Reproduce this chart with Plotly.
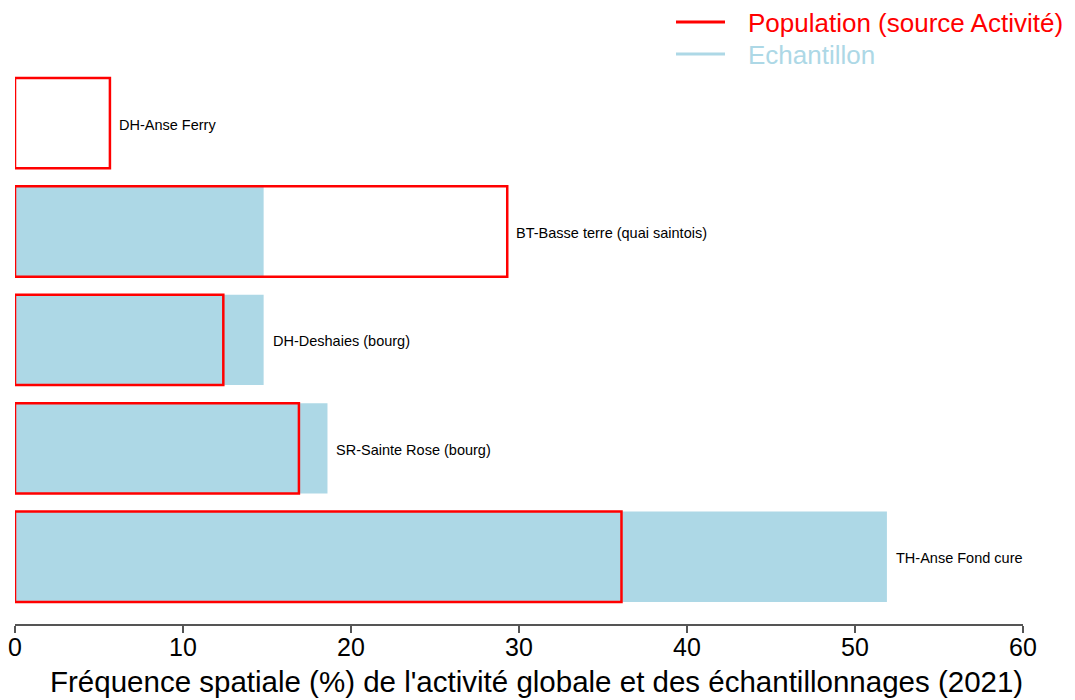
import plotly.graph_objects as go

# Data (top to bottom order as in the chart)
sites = [
    "DH-Anse Ferry",
    "BT-Basse terre (quai saintois)",
    "DH-Deshaies (bourg)",
    "SR-Sainte Rose (bourg)",
    "TH-Anse Fond cure",
]
population = [5.65, 29.3, 12.4, 16.9, 36.1]
echantillon = [0.0, 14.8, 14.8, 18.6, 51.9]
x_ticks = [0, 10, 20, 30, 40, 50, 60]
legend_names = ["Population (source Activité)", "Echantillon"]
x_title = "Fréquence spatiale (%) de l'activité globale et des échantillonnages (2021)"

RED = "#FF0000"
BLUE = "#ADD8E6"
FONT = "Liberation Sans, Arial, sans-serif"

# page body adds an 8px margin, so the figure is 8px smaller than the window
OFF = 8
W, H = 1075 - OFF, 700 - OFF
ML, MR, MT, MB = 15 - OFF, 52, 58 - OFF, 76
PW, PH = W - ML - MR, H - MT - MB


def px_x(sx):
    """screen x (reference pixels) -> paper x"""
    return (sx - OFF - ML) / PW


def px_y(sy):
    """screen y (reference pixels) -> paper y"""
    return 1 - (sy - OFF - MT) / PH


fig = go.Figure()

fig.add_trace(go.Bar(
    y=sites, x=echantillon, orientation="h", name=legend_names[1],
    marker=dict(color=BLUE, line=dict(width=0)),
    showlegend=False, hoverinfo="x+y",
))
fig.add_trace(go.Bar(
    y=sites, x=population, orientation="h", name=legend_names[0],
    marker=dict(color="rgba(0,0,0,0)", line=dict(color=RED, width=2.5)),
    showlegend=False, hoverinfo="x+y",
))

# site labels to the right of the longest bar
for s, p, e in zip(sites, population, echantillon):
    fig.add_annotation(
        x=max(p, e), y=s, text=s, showarrow=False,
        xanchor="left", yanchor="middle", xshift=7, yshift=-1.5,
        font=dict(family=FONT, size=14.5, color="#000000"),
    )

# legend drawn in paper coordinates (line + coloured text)
for name, col, cy in zip(legend_names, [RED, BLUE], [22, 54]):
    fig.add_shape(
        type="line", xref="paper", yref="paper",
        x0=px_x(676), x1=px_x(725), y0=px_y(cy), y1=px_y(cy),
        line=dict(color=col, width=3),
    )
    fig.add_annotation(
        xref="paper", yref="paper", x=px_x(746), y=px_y(cy + 1),
        text=name, showarrow=False, xanchor="left", yanchor="middle",
        font=dict(family=FONT, size=26, color=col),
    )

# x-axis title
fig.add_annotation(
    xref="paper", yref="paper", x=px_x(536), y=px_y(681),
    text=x_title, showarrow=False, xanchor="center", yanchor="middle",
    font=dict(family=FONT, size=29.5, color="#000000"),
)

fig.update_layout(
    width=W, height=H,
    margin=dict(l=ML, r=MR, t=MT, b=MB, autoexpand=False),
    paper_bgcolor="white", plot_bgcolor="white",
    barmode="overlay", bargap=1 - 1 / 1.2,
    font=dict(family=FONT, color="#000000"),
    showlegend=False,
    xaxis=dict(
        range=[0, 60], tickvals=x_ticks, ticktext=[str(v) for v in x_ticks],
        showgrid=False, zeroline=False,
        showline=True, linecolor="#555555", linewidth=1.5,
        ticks="outside", ticklen=7, tickwidth=1.5, tickcolor="#555555",
        ticklabelstandoff=-7,
        tickfont=dict(family=FONT, size=25, color="#000000"),
        fixedrange=True,
    ),
    yaxis=dict(
        type="category", categoryorder="array", categoryarray=sites,
        range=[4.62, -0.6],
        showticklabels=False, showgrid=False, zeroline=False,
        showline=False, ticks="",
        fixedrange=True,
    ),
)

fig.write_html("out.html")
